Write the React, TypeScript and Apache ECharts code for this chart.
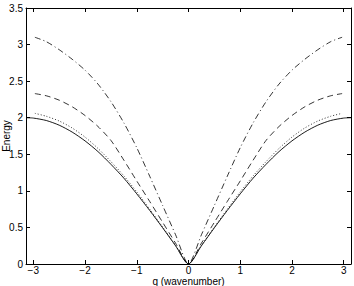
import React, { useEffect, useRef } from "react";
import * as echarts from "echarts";

// wavenumber samples (positive side; curves are symmetric in q)
const qSolid = [0, 0.25, 0.5, 0.75, 1.0, 1.25, 1.5, 1.75, 2.0, 2.25, 2.5, 2.75, 3.0, 3.1416];
const eSolid = [0, 0.249, 0.495, 0.732, 0.959, 1.174, 1.363, 1.537, 1.683, 1.804, 1.898, 1.962, 1.995, 2.0];

const qOther = [0, 0.25, 0.5, 0.75, 1.0, 1.25, 1.5, 1.75, 2.0, 2.25, 2.5, 2.75, 2.97];
const eDotted = [0, 0.255, 0.505, 0.75, 0.985, 1.205, 1.4, 1.58, 1.735, 1.86, 1.955, 2.02, 2.06];
const eDashed = [0, 0.285, 0.57, 0.855, 1.135, 1.42, 1.69, 1.88, 2.03, 2.15, 2.24, 2.3, 2.33];
const eDashDot = [0, 0.4, 0.8, 1.2, 1.59, 1.93, 2.22, 2.46, 2.65, 2.8, 2.93, 3.04, 3.1];

const xTicks = [-3, -2, -1, 0, 1, 2, 3];
const xTitle = "q (wavenumber)";
const yTitle = "Energy";

const mirror = (qs: number[], es: number[]) => {
  const pts: [number, number][] = [];
  for (let i = qs.length - 1; i > 0; i--) pts.push([-qs[i], es[i]]);
  for (let i = 0; i < qs.length; i++) pts.push([qs[i], es[i]]);
  return pts;
};

const FONT = "Liberation Sans, Arial, Helvetica, sans-serif";

export default function App() {
  const ref = useRef<HTMLDivElement>(null);
  useEffect(() => {
    if (!ref.current) return;
    const chart = echarts.init(ref.current, undefined, { renderer: "svg" });
    const axisLine = { show: true, onZero: false, lineStyle: { color: "#000", width: 1 } };
    const tick = { show: true, inside: true, length: 4, lineStyle: { color: "#000", width: 1 } };
    const mkLine = (data: [number, number][], type: any, width: number) => ({
      type: "line",
      data,
      symbol: "none",
      smooth: 0.25,
      xAxisIndex: 0,
      yAxisIndex: 0,
      lineStyle: { color: "#000", width, type },
    });
    chart.setOption({
      animation: false,
      grid: { left: 26, top: 8, right: 3, bottom: 22, containLabel: false, outerBoundsMode: "none" },
      xAxis: [
        {
          type: "value",
          min: -3.1416,
          max: 3.1416,
          position: "bottom",
          axisLine,
          axisTick: { ...tick, customValues: xTicks },
          axisLabel: {
            customValues: xTicks,
            color: "#000",
            fontSize: 10,
            lineHeight: 10,
            fontFamily: FONT,
            margin: 1,
            formatter: (v: number) => (v < 0 ? "\u2212" + Math.abs(v) : String(v)),
          },
          splitLine: { show: false },
          name: xTitle,
          nameLocation: "middle",
          nameGap: 12,
          nameMoveOverlap: false,
          nameTextStyle: { color: "#000", fontSize: 10, lineHeight: 10, fontFamily: FONT },
        },
        {
          type: "value",
          min: -3.1416,
          max: 3.1416,
          position: "top",
          axisLine,
          axisTick: { ...tick, customValues: xTicks },
          axisLabel: { show: false },
          splitLine: { show: false },
        },
      ],
      yAxis: [
        {
          type: "value",
          min: 0,
          max: 3.5,
          interval: 0.5,
          position: "left",
          axisLine,
          axisTick: tick,
          axisLabel: { color: "#000", fontSize: 10, fontFamily: FONT, margin: 3 },
          splitLine: { show: false },
          name: yTitle,
          nameLocation: "middle",
          nameGap: 15,
          nameRotate: 90,
          nameMoveOverlap: false,
          nameTextStyle: { color: "#000", fontSize: 10, lineHeight: 10, fontFamily: FONT },
        },
        {
          type: "value",
          min: 0,
          max: 3.5,
          interval: 0.5,
          position: "right",
          axisLine,
          axisTick: tick,
          axisLabel: { show: false },
          splitLine: { show: false },
        },
      ],
      series: [
        mkLine(mirror(qOther, eDashDot), [6, 3, 1, 3], 0.8),
        mkLine(mirror(qOther, eDashed), [6, 4], 0.8),
        mkLine(mirror(qOther, eDotted), [1, 2], 0.8),
        mkLine(mirror(qSolid, eSolid), "solid", 0.9),
      ],
    });
    return () => chart.dispose();
  }, []);
  return <div ref={ref} style={{ width: 354, height: 286, position: "absolute", left: 0, top: 0, background: "#fff" }} />;
}
